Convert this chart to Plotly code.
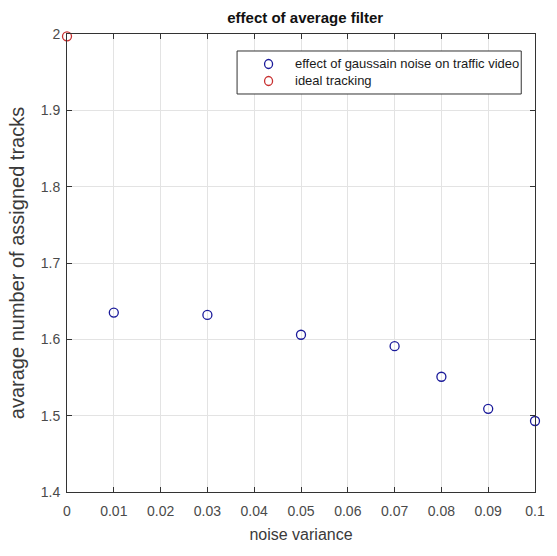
import plotly.graph_objects as go

# noise variance levels and the resulting average number of assigned tracks
noise_variance = [0.01, 0.03, 0.05, 0.07, 0.08, 0.09, 0.1]
avg_tracks = [1.635, 1.632, 1.606, 1.591, 1.551, 1.509, 1.493]

# ideal (noise free) tracking reference
ideal_variance = [0.0]
ideal_tracks = [1.997]

series_names = ["effect of gaussain noise on traffic video", "ideal tracking"]
series_colors = ["#1a1a9a", "#c83030"]

x_ticks = [0, 0.01, 0.02, 0.03, 0.04, 0.05, 0.06, 0.07, 0.08, 0.09, 0.1]
x_tick_text = ["0", "0.01", "0.02", "0.03", "0.04", "0.05", "0.06", "0.07", "0.08", "0.09", "0.1"]
y_ticks = [1.4, 1.5, 1.6, 1.7, 1.8, 1.9, 2.0]
y_tick_text = ["1.4", "1.5", "1.6", "1.7", "1.8", "1.9", "2"]

FONT = "Liberation Sans, Arial, sans-serif"

fig = go.Figure()
for xs, ys, name, color in [(noise_variance, avg_tracks, series_names[0], series_colors[0]),
                            (ideal_variance, ideal_tracks, series_names[1], series_colors[1])]:
    fig.add_trace(go.Scatter(
        x=xs, y=ys, mode="markers", name=name, showlegend=False,
        marker=dict(symbol="circle-open", size=9, color=color, line=dict(width=1.3)),
        cliponaxis=False,
    ))

axis_common = dict(
    showline=True, linecolor="#333333", linewidth=1, mirror="allticks",
    ticks="inside", ticklen=5, tickcolor="#333333",
    showgrid=True, gridcolor="#e3e3e3", gridwidth=1, zeroline=False,
    tickfont=dict(family=FONT, size=14, color="#4a4a4a"),
)

# boxed legend in the upper right of the axes (compact MATLAB-style rows)
legend_left, legend_right = 0.3634, 0.9706
legend_top, legend_bottom = 0.9629, 0.8690
row_y = [0.9345, 0.8974]
symbol_x, text_x = 0.4307, 0.4832

shapes = [dict(type="rect", xref="paper", yref="paper",
               x0=legend_left, x1=legend_right, y0=legend_bottom, y1=legend_top,
               line=dict(color="#333333", width=1), fillcolor="white", layer="above")]
annotations = []
for name, color, yc in zip(series_names, series_colors, row_y):
    shapes.append(dict(type="circle", xref="paper", yref="paper",
                       xsizemode="pixel", ysizemode="pixel",
                       xanchor=symbol_x, yanchor=yc, x0=-4, x1=4, y0=-4.5, y1=4.5,
                       line=dict(color=color, width=1.3), layer="above"))
    annotations.append(dict(text=name, xref="paper", yref="paper", x=text_x, y=yc,
                            xanchor="left", yanchor="middle", showarrow=False,
                            font=dict(family=FONT, size=13, color="#1a1a1a")))

fig.update_layout(
    width=557, height=556,
    margin=dict(l=67, r=14, t=34, b=64),
    paper_bgcolor="white", plot_bgcolor="white",
    title=dict(text="<b>effect of average filter</b>", x=0.548, xanchor="center",
               y=0.968, yanchor="middle",
               font=dict(family=FONT, size=15, color="#111111")),
    xaxis=dict(range=[0, 0.1], tickvals=x_ticks, ticktext=x_tick_text,
               ticklabelstandoff=6,
               title=dict(text="noise variance", standoff=11,
                          font=dict(family=FONT, size=16, color="#3a3a3a")),
               **axis_common),
    yaxis=dict(range=[1.4, 2.0], tickvals=y_ticks, ticktext=y_tick_text,
               ticklabelstandoff=3,
               title=dict(text="avarage number of assigned tracks", standoff=10,
                          font=dict(family=FONT, size=20, color="#3a3a3a")),
               **axis_common),
    shapes=shapes,
    annotations=annotations,
    showlegend=False,
)

fig.write_html("out.html")
